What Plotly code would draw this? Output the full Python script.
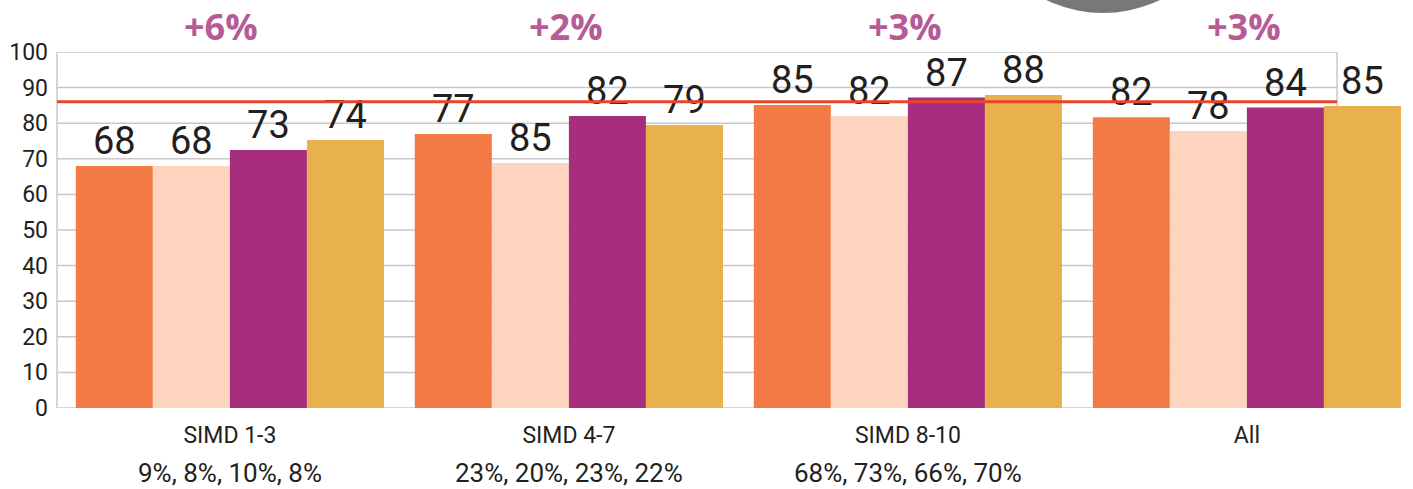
import plotly.graph_objects as go

categories = ["SIMD 1-3", "SIMD 4-7", "SIMD 8-10", "All"]
shares = ["9%, 8%, 10%, 8%", "23%, 20%, 23%, 22%", "68%, 73%, 66%, 70%", ""]
changes = ["+6%", "+2%", "+3%", "+3%"]

# bar heights
series1_values = [68, 77, 85.1, 81.7]
series2_values = [68, 68.8, 82, 77.8]
series3_values = [72.5, 82, 87.2, 84.4]
series4_values = [75.3, 79.5, 87.9, 84.8]

# printed labels (as shown in the picture)
series1_labels = ["68", "77", "85", "82"]
series2_labels = ["68", "85", "82", "78"]
series3_labels = ["73", "82", "87", "84"]
series4_labels = ["74", "79", "88", "85"]

target_value = 86
y_ticks = [0, 10, 20, 30, 40, 50, 60, 70, 80, 90, 100]

colors = ["#F47A45", "#FDD4BD", "#A72E7E", "#E9B04E"]
series = [
    (series1_values, series1_labels),
    (series2_values, series2_labels),
    (series3_values, series3_labels),
    (series4_values, series4_labels),
]

fig = go.Figure()
for (vals, labs), col in zip(series, colors):
    fig.add_trace(go.Bar(
        x=categories, y=vals, text=labs,
        textposition="outside", cliponaxis=False, constraintext="none",
        textfont=dict(family="Roboto", size=38, color="#231F20"),
        marker=dict(color=col, line=dict(width=0)),
        hoverinfo="skip",
    ))

FRAME_R = 0.944  # right edge of plot frame (paper)
shapes = []
for v in y_ticks:
    shapes.append(dict(type="line", xref="paper", yref="y", x0=0, x1=FRAME_R, y0=v, y1=v,
                       line=dict(color="#C8C8C8", width=1.5), layer="below"))
shapes.append(dict(type="line", xref="paper", yref="y", x0=0, x1=0, y0=0, y1=100,
                   line=dict(color="#C8C8C8", width=1.5), layer="below"))
shapes.append(dict(type="line", xref="paper", yref="y", x0=FRAME_R, x1=FRAME_R, y0=0, y1=100,
                   line=dict(color="#C8C8C8", width=1.5), layer="below"))
shapes.append(dict(type="line", xref="paper", yref="y", x0=0, x1=FRAME_R, y0=target_value, y1=target_value,
                   line=dict(color="#EA4428", width=3), layer="above"))
shapes.append(dict(type="circle", xref="paper", yref="paper", x0=0.6748, x1=0.868, y0=1.1096, y1=1.8455,
                   fillcolor="#78787B", line=dict(width=0), layer="above"))

annotations = []
for i, (c, s, ch) in enumerate(zip(categories, shares, changes)):
    if s:
        annotations.append(dict(x=c, y=0, xref="x", yref="paper", text=s, showarrow=False,
                                yshift=-65, yanchor="middle",
                                font=dict(family="Roboto", size=26, color="#231F20")))
    annotations.append(dict(x=c, y=1, xref="x", yref="paper", text="<b>%s</b>" % ch, showarrow=False,
                            yshift=26, yanchor="middle", xshift=-9 if i == 0 else -3,
                            font=dict(family="Open Sans", size=36, color="#B65B95")))

fig.update_layout(
    width=1413, height=489,
    margin=dict(l=57, r=0, t=52, b=81),
    paper_bgcolor="white", plot_bgcolor="white",
    barmode="group", bargap=0.091, bargroupgap=0,
    showlegend=False,
    shapes=shapes, annotations=annotations,
    xaxis=dict(range=[-0.51, 3.49], showgrid=False, showline=False, zeroline=False,
               ticks="", ticklabelstandoff=11,
               tickfont=dict(family="Roboto", size=23, color="#231F20")),
    yaxis=dict(range=[0, 100], tickvals=y_ticks, showgrid=False, showline=False, zeroline=False,
               ticks="", ticklabelstandoff=8,
               tickfont=dict(family="Roboto", size=23, color="#231F20")),
)

fig.write_html("out.html", config={"displayModeBar": False},
               post_script="document.body.style.margin='0px';")
